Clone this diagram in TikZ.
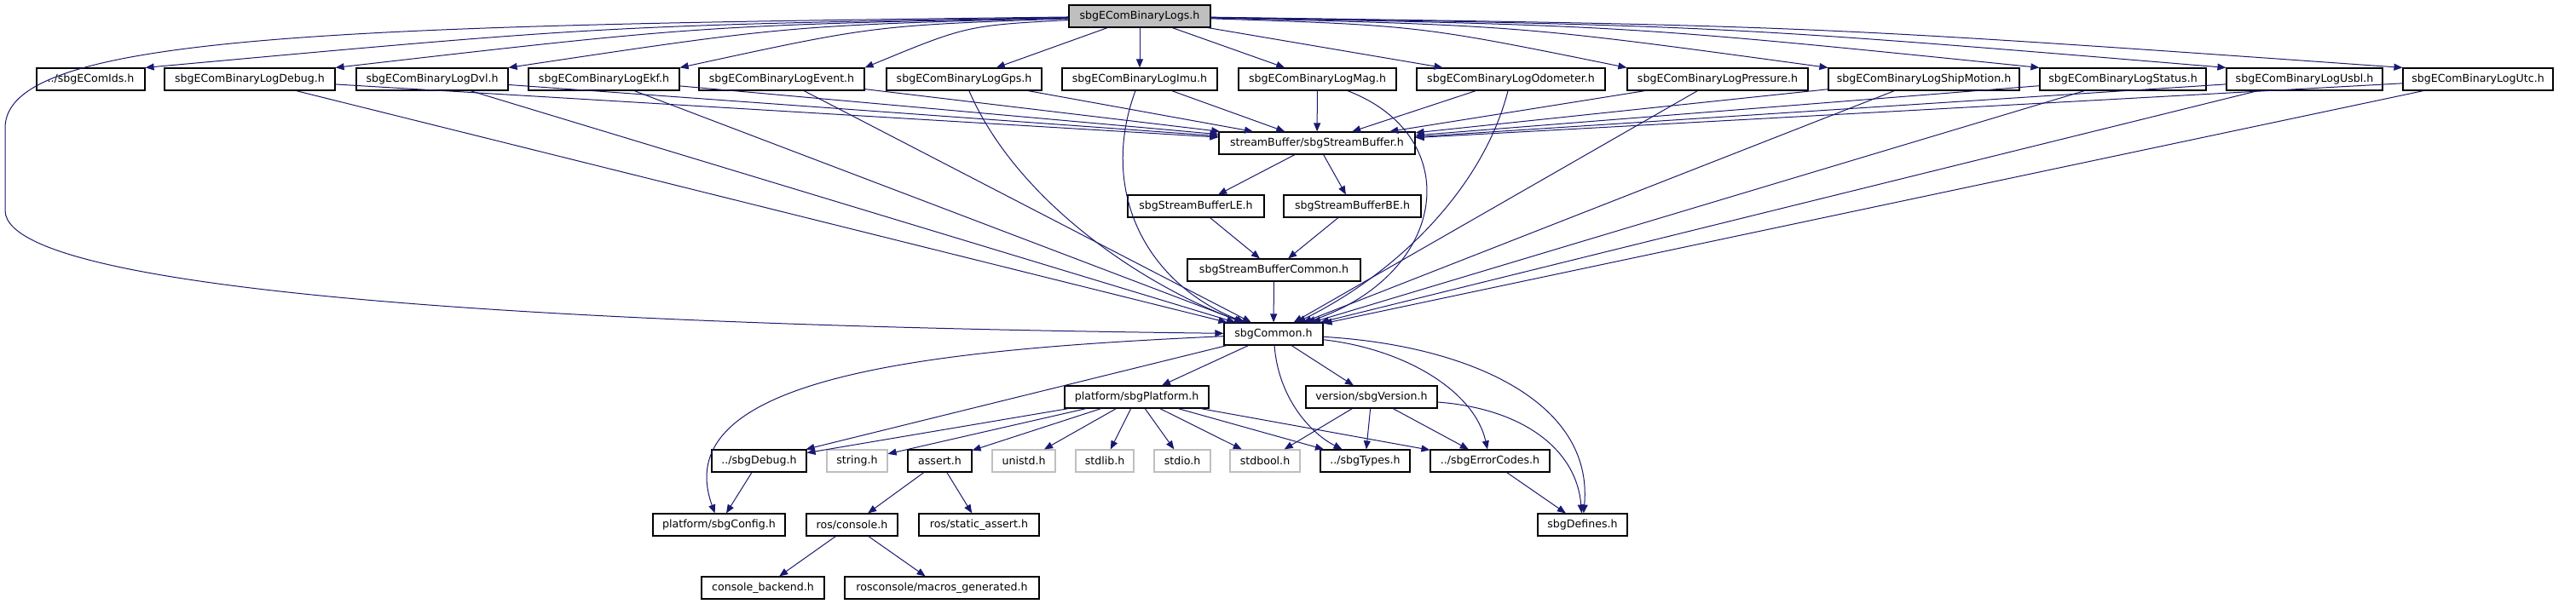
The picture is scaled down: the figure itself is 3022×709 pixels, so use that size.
\documentclass[tikz,border=0pt]{standalone}
\usepackage{fontspec}
\setmainfont{DejaVu Sans}
\usetikzlibrary{arrows.meta}
\definecolor{edgeblue}{HTML}{191970}
\definecolor{boxgray}{HTML}{BFBFBF}

\begin{document}
\begin{tikzpicture}[x=1pt, y=-1pt, font=\fontsize{12.6}{14}\selectfont,
	hdr/.style={draw=black, line width=1.2pt, fill=white, minimum height=26pt, inner sep=0pt},
	sys/.style={hdr, draw=boxgray},
	dep/.style={draw=edgeblue, line width=1pt, -{Triangle[length=10pt,width=8pt]}}]
	\useasboundingbox (0,0) rectangle (3022,709);
	% top file
	\node[hdr, fill=boxgray, minimum width=166pt]	(logs) at (1337,19) {sbgEComBinaryLogs.h};
	% binary log headers
	\node[hdr, minimum width=127pt]	(ids) at (106.5,93) {../sbgEComIds.h};
	\node[hdr, minimum width=200pt]	(debug) at (293,93) {sbgEComBinaryLogDebug.h};
	\node[hdr, minimum width=178pt]	(dvl) at (507,93) {sbgEComBinaryLogDvl.h};
	\node[hdr, minimum width=177pt]	(ekf) at (708.5,93) {sbgEComBinaryLogEkf.h};
	\node[hdr, minimum width=194pt]	(event) at (917,93) {sbgEComBinaryLogEvent.h};
	\node[hdr, minimum width=182pt]	(gps) at (1131,93) {sbgEComBinaryLogGps.h};
	\node[hdr, minimum width=182pt]	(imu) at (1337,93) {sbgEComBinaryLogImu.h};
	\node[hdr, minimum width=185pt]	(mag) at (1545.5,93) {sbgEComBinaryLogMag.h};
	\node[hdr, minimum width=221pt]	(odo) at (1772.5,93) {sbgEComBinaryLogOdometer.h};
	\node[hdr, minimum width=212pt]	(pressure) at (2015,93) {sbgEComBinaryLogPressure.h};
	\node[hdr, minimum width=224pt]	(ship) at (2257,93) {sbgEComBinaryLogShipMotion.h};
	\node[hdr, minimum width=195pt]	(status) at (2490.5,93) {sbgEComBinaryLogStatus.h};
	\node[hdr, minimum width=183pt]	(usbl) at (2703.5,93) {sbgEComBinaryLogUsbl.h};
	\node[hdr, minimum width=176pt]	(utc) at (2907,93) {sbgEComBinaryLogUtc.h};
	% stream buffer
	\node[hdr, minimum width=230pt]	(sbuf) at (1545,168) {streamBuffer/sbgStreamBuffer.h};
	\node[hdr, minimum width=160pt]	(le) at (1403,242) {sbgStreamBufferLE.h};
	\node[hdr, minimum width=161pt]	(be) at (1586.5,242) {sbgStreamBufferBE.h};
	\node[hdr, minimum width=203pt]	(sbcommon) at (1494.5,317) {sbgStreamBufferCommon.h};
	% common
	\node[hdr, minimum width=116pt]	(common) at (1494,392) {sbgCommon.h};
	\node[hdr, minimum width=169pt]	(platform) at (1333.5,466) {platform/sbgPlatform.h};
	\node[hdr, minimum width=154pt]	(version) at (1609,466) {version/sbgVersion.h};
	\node[hdr, minimum width=111pt]	(sbgdebug) at (890.5,541) {../sbgDebug.h};
	\node[sys, minimum width=71pt]	(string) at (1005.5,541) {string.h};
	\node[hdr, minimum width=75pt]	(assert) at (1102.5,541) {assert.h};
	\node[sys, minimum width=74pt]	(unistd) at (1201,541) {unistd.h};
	\node[sys, minimum width=68pt]	(stdlib) at (1296,541) {stdlib.h};
	\node[sys, minimum width=66pt]	(stdio) at (1387,541) {stdio.h};
	\node[sys, minimum width=82pt]	(stdbool) at (1484,541) {stdbool.h};
	\node[hdr, minimum width=105pt]	(types) at (1601.5,541) {../sbgTypes.h};
	\node[hdr, minimum width=140pt]	(errcodes) at (1748,541) {../sbgErrorCodes.h};
	\node[hdr, minimum width=155pt]	(config) at (843.5,616) {platform/sbgConfig.h};
	\node[hdr, minimum width=107pt]	(console) at (999.5,616) {ros/console.h};
	\node[hdr, minimum width=141pt]	(static) at (1148.5,616) {ros/static\_assert.h};
	\node[hdr, minimum width=105pt]	(defines) at (1856.5,616) {sbgDefines.h};
	\node[hdr, minimum width=144pt]	(backend) at (895,690) {console\_backend.h};
	\node[hdr, minimum width=228pt]	(macros) at (1105,690) {rosconsole/macros\_generated.h};

	% edges from the top file
	\foreach \n/\cx in {ids/712, debug/823, dvl/925, ekf/1025, event/1134}
		\draw[dep] (logs) .. controls (\cx,30) .. (\n.north east);
	\foreach \n in {gps,imu,mag,odo}
		\draw[dep] (logs) -- (\n);
	\foreach \n/\cx in {pressure/1665, ship/1783, status/1907, usbl/2016, utc/2120}
		\draw[dep] (logs) .. controls (\cx,30) .. (\n.north west);
	\draw[dep] (logs) .. controls (400,30) and (6,40) .. (6,150) -- (6,247) .. controls (6,360) and (900,385) .. (common);
	% log headers to stream buffer and common
	\foreach \n in {debug,dvl,ekf,event,gps,imu,mag,odo,pressure,ship,status,usbl,utc}
		\draw[dep] (\n) -- (sbuf);
	\foreach \n in {debug,dvl,ekf,event,pressure,ship,status,usbl,utc}
		\draw[dep] (\n) -- (common);
	\draw[dep] (gps) .. controls (1190,230) and (1330,330) .. (common);
	\draw[dep] (imu) .. controls (1290,220) and (1340,330) .. (common);
	\draw[dep] (mag) .. controls (1720,160) and (1700,320) .. (common);
	\draw[dep] (odo) .. controls (1740,220) and (1640,320) .. (common);
	\draw[dep] (sbuf) -- (le);
	\draw[dep] (sbuf) -- (be);
	\draw[dep] (le) -- (sbcommon);
	\draw[dep] (be) -- (sbcommon);
	\draw[dep] (sbcommon) -- (common);
	% common includes
	\draw[dep] (common) -- (platform);
	\draw[dep] (common) -- (version);
	\draw[dep] (common) -- (sbgdebug);
	\draw[dep] (common) .. controls (1100,410) and (780,440) .. (config);
	\draw[dep] (common) .. controls (1500,470) and (1540,510) .. (types);
	\draw[dep] (common) .. controls (1650,410) and (1730,460) .. (errcodes);
	\draw[dep] (common) .. controls (1720,405) and (1870,470) .. (defines);
	\foreach \n in {sbgdebug,string,assert,unistd,stdlib,stdio,stdbool,types,errcodes}
		\draw[dep] (platform) -- (\n);
	\foreach \n in {stdbool,types,errcodes}
		\draw[dep] (version) -- (\n);
	\draw[dep] (version) .. controls (1790,480) and (1850,530) .. (defines);
	\draw[dep] (sbgdebug) -- (config);
	\draw[dep] (assert) -- (console);
	\draw[dep] (assert) -- (static);
	\draw[dep] (console) -- (backend);
	\draw[dep] (console) -- (macros);
	\draw[dep] (errcodes) -- (defines);
\end{tikzpicture}
\end{document}
